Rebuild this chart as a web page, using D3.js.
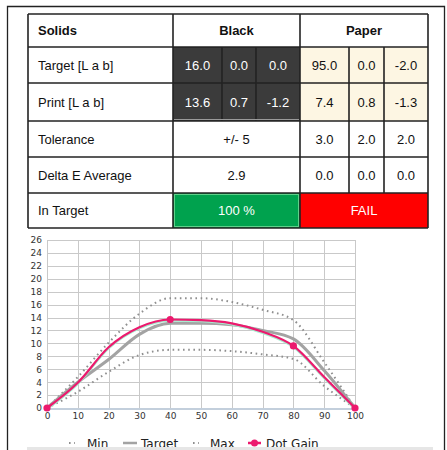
<!DOCTYPE html>
<html>
<head>
<meta charset="utf-8">
<script src="https://cdn.jsdelivr.net/npm/d3@7"></script>
<style>
  body { margin: 0; background: #fff; }
  svg { display: block; }
</style>
</head>
<body>
<svg id="report" width="447" height="450"></svg>
<script>
//// data
var headers = ["Solids", "Black", "Paper"];
var rowLabels = ["Target [L a b]", "Print [L a b]", "Tolerance", "Delta E Average", "In Target"];
var blackTarget = ["16.0", "0.0", "0.0"];
var paperTarget = ["95.0", "0.0", "-2.0"];
var blackPrint = ["13.6", "0.7", "-1.2"];
var paperPrint = ["7.4", "0.8", "-1.3"];
var blackTolerance = "+/- 5";
var paperTolerance = ["3.0", "2.0", "2.0"];
var blackDeltaE = "2.9";
var paperDeltaE = ["0.0", "0.0", "0.0"];
var blackInTarget = "100 %";
var paperInTarget = "FAIL";

var tones = [0, 10, 20, 30, 40, 50, 60, 70, 80, 90, 100];
var minCurve = [0, 2.5, 5.6, 8.2, 9.0, 9.0, 8.8, 8.3, 7.6, 3.4, 0];
var targetCurve = [0, 4.0, 7.5, 11.4, 13.1, 13.1, 12.9, 12.0, 10.7, 5.8, 0];
var maxCurve = [0, 4.8, 10.1, 14.6, 17.0, 17.0, 16.4, 15.2, 13.6, 7.1, 0];
var dotGain = [0, 3.9, 9.4, 12.5, 13.7, 13.6, 13.1, 11.8, 9.6, 4.8, 0];
var dotGainMarked = [0, 40, 80, 100];
var yTicks = d3.range(0, 27, 2);
var xTicks = d3.range(0, 101, 10);
var legendItems = ["Min", "Target", "Max", "Dot Gain"];

var svg = d3.select("svg#report");
var tableFont = "'Liberation Sans', Arial, sans-serif";
var chartFont = "'DejaVu Sans', sans-serif";

// outer frame
svg.append("path")
   .attr("d", "M7.5,450 L7.5,6.5 L444.5,6.5 L444.5,450")
   .attr("fill", "none")
   .attr("stroke", "#222")
   .attr("stroke-width", 1.3);

//// table
var colX = [28, 173, 222, 256, 300, 349, 384, 428];
var rowY = [14, 47, 83, 121, 157, 193, 228];
var table = svg.append("g");

function cell(x0, x1, y0, y1, fill) {
  table.append("rect")
    .attr("x", x0).attr("y", y0)
    .attr("width", x1 - x0).attr("height", y1 - y0)
    .attr("fill", fill);
}
function label(x, y, txt, opts) {
  opts = opts || {};
  table.append("text")
    .attr("x", x).attr("y", y)
    .attr("text-anchor", opts.anchor || "middle")
    .attr("dominant-baseline", "central")
    .attr("font-family", tableFont)
    .attr("font-size", opts.size || 13)
    .attr("font-weight", opts.bold ? "bold" : "normal")
    .attr("fill", opts.color || "#111")
    .text(txt);
}
function mid(a, b) { return (a + b) / 2; }

cell(colX[0], colX[7], rowY[0], rowY[6], "#fff");
// dark and cream cells
[1, 2].forEach(function(r) {
  for (var c = 1; c <= 3; c++) cell(colX[c], colX[c + 1], rowY[r], rowY[r + 1], "#3b3b3b");
  for (var c = 4; c <= 6; c++) cell(colX[c], colX[c + 1], rowY[r], rowY[r + 1], "#fdf6e3");
});
cell(colX[1], colX[4], rowY[5], rowY[6], "#00a24e");
table.append("rect")
  .attr("x", colX[1] + 1.5).attr("y", rowY[5] + 1.5)
  .attr("width", colX[4] - colX[1] - 3).attr("height", rowY[6] - rowY[5] - 3)
  .attr("fill", "none").attr("stroke", "#5fd08a").attr("stroke-width", 1);
cell(colX[4], colX[7], rowY[5], rowY[6], "#ff0000");

// grid lines
var gridColor = "#222";
rowY.forEach(function(y) {
  table.append("line").attr("x1", colX[0]).attr("x2", colX[7])
    .attr("y1", y).attr("y2", y)
    .attr("stroke", gridColor).attr("stroke-width", 1.6);
});
[colX[0], colX[1], colX[4], colX[7]].forEach(function(x) {
  table.append("line").attr("x1", x).attr("x2", x)
    .attr("y1", rowY[0]).attr("y2", rowY[6])
    .attr("stroke", gridColor).attr("stroke-width", 1.6);
});
[colX[2], colX[3]].forEach(function(x) {
  table.append("line").attr("x1", x).attr("x2", x)
    .attr("y1", rowY[1]).attr("y2", rowY[3])
    .attr("stroke", gridColor).attr("stroke-width", 1.6);
});
[colX[5], colX[6]].forEach(function(x) {
  table.append("line").attr("x1", x).attr("x2", x)
    .attr("y1", rowY[1]).attr("y2", rowY[5])
    .attr("stroke", gridColor).attr("stroke-width", 1.6);
});
table.append("line").attr("x1", colX[1] + 1).attr("x2", colX[4] - 1)
  .attr("y1", rowY[3] - 1.5).attr("y2", rowY[3] - 1.5)
  .attr("stroke", "#9a9a9a").attr("stroke-width", 1);

// header
label(colX[0] + 10, mid(rowY[0], rowY[1]), headers[0], {anchor: "start", bold: true});
label(mid(colX[1], colX[4]), mid(rowY[0], rowY[1]), headers[1], {bold: true});
label(mid(colX[4], colX[7]), mid(rowY[0], rowY[1]), headers[2], {bold: true});

// row labels
rowLabels.forEach(function(t, i) {
  label(colX[0] + 10, mid(rowY[i + 1], rowY[i + 2]), t, {anchor: "start"});
});

function tripleRow(r, vals, c0, color) {
  vals.forEach(function(v, i) {
    label(mid(colX[c0 + i], colX[c0 + i + 1]), mid(rowY[r], rowY[r + 1]), v, {color: color, size: 13});
  });
}
tripleRow(1, blackTarget, 1, "#fff");
tripleRow(1, paperTarget, 4, "#111");
tripleRow(2, blackPrint, 1, "#fff");
tripleRow(2, paperPrint, 4, "#111");
label(mid(colX[1], colX[4]), mid(rowY[3], rowY[4]), blackTolerance);
tripleRow(3, paperTolerance, 4, "#111");
label(mid(colX[1], colX[4]), mid(rowY[4], rowY[5]), blackDeltaE);
tripleRow(4, paperDeltaE, 4, "#111");
label(mid(colX[1], colX[4]), mid(rowY[5], rowY[6]), blackInTarget, {color: "#fff"});
label(mid(colX[4], colX[7]), mid(rowY[5], rowY[6]), paperInTarget, {color: "#fff"});

//// chart
var x = d3.scaleLinear().domain([0, 100]).range([47, 355]);
var y = d3.scaleLinear().domain([0, 26]).range([408, 240]);
var chart = svg.append("g");

chart.selectAll(".hgrid").data(yTicks).enter().append("line")
  .attr("x1", x(0)).attr("x2", x(100))
  .attr("y1", function(d) { return Math.round(y(d)) + 0.5; })
  .attr("y2", function(d) { return Math.round(y(d)) + 0.5; })
  .attr("stroke", "#c9c9c9").attr("stroke-width", 1);
chart.selectAll(".vgrid").data(xTicks).enter().append("line")
  .attr("x1", function(d) { return Math.round(x(d)) + 0.5; })
  .attr("x2", function(d) { return Math.round(x(d)) + 0.5; })
  .attr("y1", y(26)).attr("y2", y(0))
  .attr("stroke", "#c9c9c9").attr("stroke-width", 1);
chart.append("line")
  .attr("x1", x(0)).attr("x2", x(100))
  .attr("y1", y(0) + 1).attr("y2", y(0) + 1)
  .attr("stroke", "#c3cfdc").attr("stroke-width", 2);

// axes
var yAxis = chart.append("g")
  .attr("transform", "translate(" + (x(0) - 5) + ",0)")
  .call(d3.axisLeft(y).tickValues(yTicks).tickSize(0).tickPadding(0));
var xAxis = chart.append("g")
  .attr("transform", "translate(0," + (y(0) + 3) + ")")
  .call(d3.axisBottom(x).tickValues(xTicks).tickSize(0).tickPadding(2));
[yAxis, xAxis].forEach(function(a) {
  a.select(".domain").remove();
  a.selectAll("text")
    .attr("font-family", chartFont)
    .attr("font-size", 9)
    .attr("fill", "#333");
});

function lineFor(values) {
  return d3.line()
    .x(function(d, i) { return x(tones[i]); })
    .y(function(d) { return y(d); })
    .curve(d3.curveMonotoneX)(values);
}

chart.append("path").attr("d", lineFor(minCurve))
  .attr("fill", "none").attr("stroke", "#8f8f8f").attr("stroke-width", 2)
  .attr("stroke-dasharray", "1.6,3.6");
chart.append("path").attr("d", lineFor(maxCurve))
  .attr("fill", "none").attr("stroke", "#8f8f8f").attr("stroke-width", 2)
  .attr("stroke-dasharray", "1.6,3.6");
chart.append("path").attr("d", lineFor(targetCurve))
  .attr("fill", "none").attr("stroke", "#a3a3a3").attr("stroke-width", 3);
chart.append("path").attr("d", lineFor(dotGain))
  .attr("transform", "translate(0,1.2)")
  .attr("fill", "none").attr("stroke", "#a8ecd0").attr("stroke-width", 2);
chart.append("path").attr("d", lineFor(dotGain))
  .attr("fill", "none").attr("stroke", "#ec1a6e").attr("stroke-width", 2.2);
chart.selectAll(".marker").data(dotGainMarked).enter().append("circle")
  .attr("cx", function(d) { return x(d); })
  .attr("cy", function(d) { return y(dotGain[tones.indexOf(d)]); })
  .attr("r", 3.6)
  .attr("fill", "#ec1a6e");

//// legend
var legend = svg.append("g").attr("font-family", chartFont).attr("font-size", 12).attr("fill", "#222");
var legendX = [69, 123, 193, 248];
var legendTextX = [87, 141, 210, 266];
var ly = 443;
legendItems.forEach(function(name, i) {
  var g = legend.append("g");
  if (i === 0 || i === 2) {
    g.append("line").attr("x1", legendX[i]).attr("x2", legendX[i] + 6)
      .attr("y1", ly).attr("y2", ly)
      .attr("stroke", "#8f8f8f").attr("stroke-width", 1.8)
      .attr("stroke-dasharray", "1.6,3.6");
  } else if (i === 1) {
    g.append("line").attr("x1", legendX[i]).attr("x2", legendX[i] + 14)
      .attr("y1", ly).attr("y2", ly)
      .attr("stroke", "#a3a3a3").attr("stroke-width", 2.5);
  } else {
    g.append("line").attr("x1", legendX[i]).attr("x2", legendX[i] + 13)
      .attr("y1", ly).attr("y2", ly)
      .attr("stroke", "#ec1a6e").attr("stroke-width", 2.5);
    g.append("circle").attr("cx", legendX[i] + 6.5).attr("cy", ly).attr("r", 3.5)
      .attr("fill", "#ec1a6e");
  }
  g.append("text").attr("x", legendTextX[i]).attr("y", ly + 4.5).text(name);
});

// bottom band
svg.append("rect")
  .attr("x", 27).attr("y", 447)
  .attr("width", 406).attr("height", 3)
  .attr("fill", "#e6e6e6");
</script>
</body>
</html>
